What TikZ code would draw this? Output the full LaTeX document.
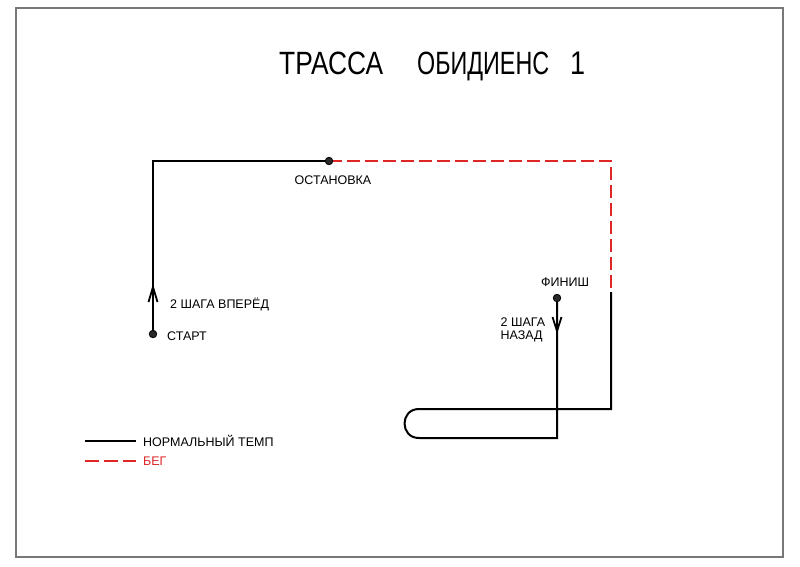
\documentclass[tikz,border=0pt]{standalone}
\usepackage{fontspec}
\setmainfont{Liberation Sans}
\usepackage{graphicx}
\definecolor{runred}{RGB}{222,38,38}
\definecolor{framegray}{RGB}{120,120,120}
\definecolor{dotgray}{RGB}{40,40,40}
\newcommand{\ttlword}[2]{\resizebox{#1}{22.5pt}{\fontsize{30}{32}\selectfont #2}}
\begin{document}
\begin{tikzpicture}[x=1pt,y=-1pt,
  walk/.style={line width=2pt,black,line join=miter},
  run/.style={line width=2pt,runred,dash pattern=on 13pt off 5pt},
  chev/.style={line width=1.8pt,black,line join=miter},
  dotmark/.style={circle,fill=dotgray,draw=black,line width=0.8pt,minimum size=7.5pt,inner sep=0pt},
  lbl/.style={inner sep=0pt,font=\fontsize{12.5}{14}\selectfont},
]
\useasboundingbox (0,0) rectangle (800,566);
\fill[white] (0,0) rectangle (800,566);
\draw[framegray,line width=1.2pt] (16,8) rectangle (783,557);

% title
\node[inner sep=0pt,anchor=base west] (title) at (279,74)
  {\ttlword{104pt}{ТРАССА}\hspace{34pt}\ttlword{132pt}{ОБИДИЕНС}\hspace{21pt}\ttlword{15pt}{1}};

% key points
\coordinate (start) at (153,334);
\coordinate (c1) at (153,161);
\coordinate (stop) at (329,161);
\coordinate (c2) at (611,161);
\coordinate (sw) at (611,292);
\coordinate (c3) at (611,409);
\coordinate (lt) at (419,409);
\coordinate (lb) at (419,438);
\coordinate (c4) at (557,438);
\coordinate (finish) at (557,298);

% paths
\draw[walk] (start) -- (c1) -- (stop);
\draw[run] (stop) -- (c2) -- (sw);
\draw[walk] (sw) -- (c3) -- (lt) .. controls (399.7,409) and (399.7,438) .. (lb) -- (c4) -- (finish);

% direction chevrons
\coordinate (a1l) at (148.5,302);
\coordinate (a1t) at (153,287);
\coordinate (a1r) at (157.5,302);
\draw[chev] (a1l) -- (a1t) -- (a1r);
\coordinate (a2l) at (552.5,317);
\coordinate (a2t) at (557,331);
\coordinate (a2r) at (561.5,317);
\draw[chev] (a2l) -- (a2t) -- (a2r);

% dots
\node[dotmark] (startdot) at (start) {};
\node[dotmark] (stopdot) at (stop) {};
\node[dotmark] (finishdot) at (finish) {};

% labels
\node[lbl,anchor=base] (lstop) at (333,184.5) {ОСТАНОВКА};
\node[lbl,anchor=base west] (lfwd) at (170,308) {2 ШАГА ВПЕРЁД};
\node[lbl,anchor=base west] (lstart) at (167,340) {СТАРТ};
\node[lbl,anchor=base] (lfin) at (565,286) {ФИНИШ};
\node[lbl,anchor=base west] (lback1) at (500.5,326) {2 ШАГА};
\node[lbl,anchor=base west] (lback2) at (500.5,339.5) {НАЗАД};

% legend
\coordinate (k1a) at (85,441);
\coordinate (k1b) at (136,441);
\draw[walk] (k1a) -- (k1b);
\node[lbl,anchor=base west] (knorm) at (143,446) {НОРМАЛЬНЫЙ ТЕМП};
\coordinate (k2a) at (85,461);
\coordinate (k2b) at (136,461);
\draw[run,dash pattern=on 14pt off 5pt] (k2a) -- (k2b);
\node[lbl,anchor=base west,text=runred] (krun) at (143,465.5) {БЕГ};
\end{tikzpicture}
\end{document}
